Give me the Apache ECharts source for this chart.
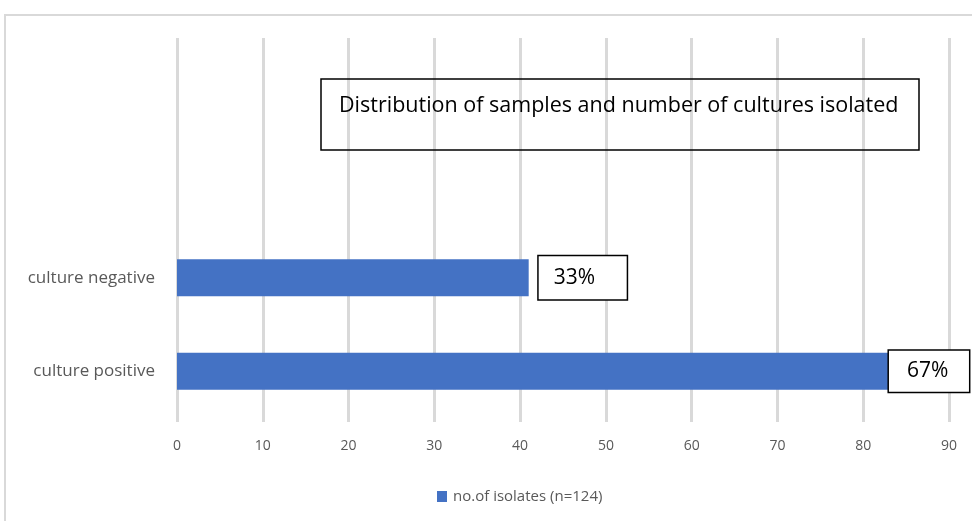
<!DOCTYPE html>
<html>
<head>
<meta charset="utf-8">
<script src="https://cdn.jsdelivr.net/npm/echarts@6/dist/echarts.min.js"></script>
<style>
  html, body { margin: 0; padding: 0; background: #fff; }
  #chart { width: 972px; height: 521px; }
</style>
</head>
<body>
<div id="chart"></div>
<script>
// Samples split by culture result (bottom to top on the category axis)
const categories = ['culture positive', 'culture negative'];
const isolates = [83, 41];
const seriesName = 'no.of isolates (n=124)';
const chartTitle = 'Distribution of samples and number of cultures isolated';
const xTicks = { min: 0, max: 90, step: 10 };

const total = isolates.reduce((a, b) => a + b, 0);
const pctLabel = v => Math.round(v / total * 100) + '%';

const FONT = '"Open Sans", "Liberation Sans", sans-serif';
const GREY = '#595959';
const BLUE = '#4472c4';

const chart = echarts.init(document.getElementById('chart'), null, { renderer: 'canvas' });

chart.setOption({
  backgroundColor: '#fff',
  animation: false,
  graphic: [
    {
      type: 'rect', z: -10,
      shape: { x: 5, y: 15, width: 1000, height: 600 },
      style: { fill: '#fff', stroke: '#d9d9d9', lineWidth: 2 }
    }
  ],
  title: {
    text: chartTitle,
    left: 321, top: 79,
    borderColor: '#000', borderWidth: 1.5,
    padding: [14, 21, 31, 18],
    textStyle: {
      fontFamily: FONT, fontSize: 21.5, fontWeight: 'normal', color: '#000',
      lineHeight: 26
    }
  },
  legend: {
    left: 432, top: 484,
    itemWidth: 10, itemHeight: 11, itemGap: 6,
    icon: 'rect',
    textStyle: { fontFamily: FONT, fontSize: 15, color: GREY, padding: [0, 0, 0, 1] },
    data: [seriesName]
  },
  grid: [
    // full plot area: carries the value axis and its vertical gridlines
    { left: 177, right: 23, top: 38, bottom: 99 },
    // lower band holding the two bars
    { left: 177, right: 23, top: 231, bottom: 103 }
  ],
  xAxis: [
    {
      gridIndex: 0, type: 'value',
      min: xTicks.min, max: xTicks.max, interval: xTicks.step,
      axisLine: { show: false }, axisTick: { show: false },
      splitLine: { show: true, lineStyle: { color: '#d9d9d9', width: 3 } },
      axisLabel: { fontFamily: FONT, fontSize: 14, color: GREY, margin: 17 }
    },
    {
      gridIndex: 1, type: 'value',
      min: xTicks.min, max: xTicks.max,
      show: false
    }
  ],
  yAxis: [
    { gridIndex: 0, type: 'value', show: false },
    {
      gridIndex: 1, type: 'category', data: categories,
      axisLine: { show: false }, axisTick: { show: false },
      splitLine: { show: false },
      axisLabel: { fontFamily: FONT, fontSize: 17, color: GREY, margin: 22 }
    }
  ],
  series: [
    {
      name: seriesName,
      type: 'bar',
      xAxisIndex: 1, yAxisIndex: 1,
      barWidth: 37,
      itemStyle: { color: BLUE },
      data: isolates.map((v, i) => ({
        value: v,
        label: i === 0
          ? { distance: 0, padding: [11, 17, 6, 18], width: 45 }
          : { distance: 10, padding: [11, 28, 8, 15], width: 45 }
      })),
      label: {
        show: true,
        position: 'right',
        formatter: p => pctLabel(p.value),
        fontFamily: FONT, fontSize: 21, color: '#000',
        lineHeight: 24,
        backgroundColor: '#fff',
        borderColor: '#000', borderWidth: 1.5,
        align: 'left'
      }
    }
  ]
});
</script>
</body>
</html>
